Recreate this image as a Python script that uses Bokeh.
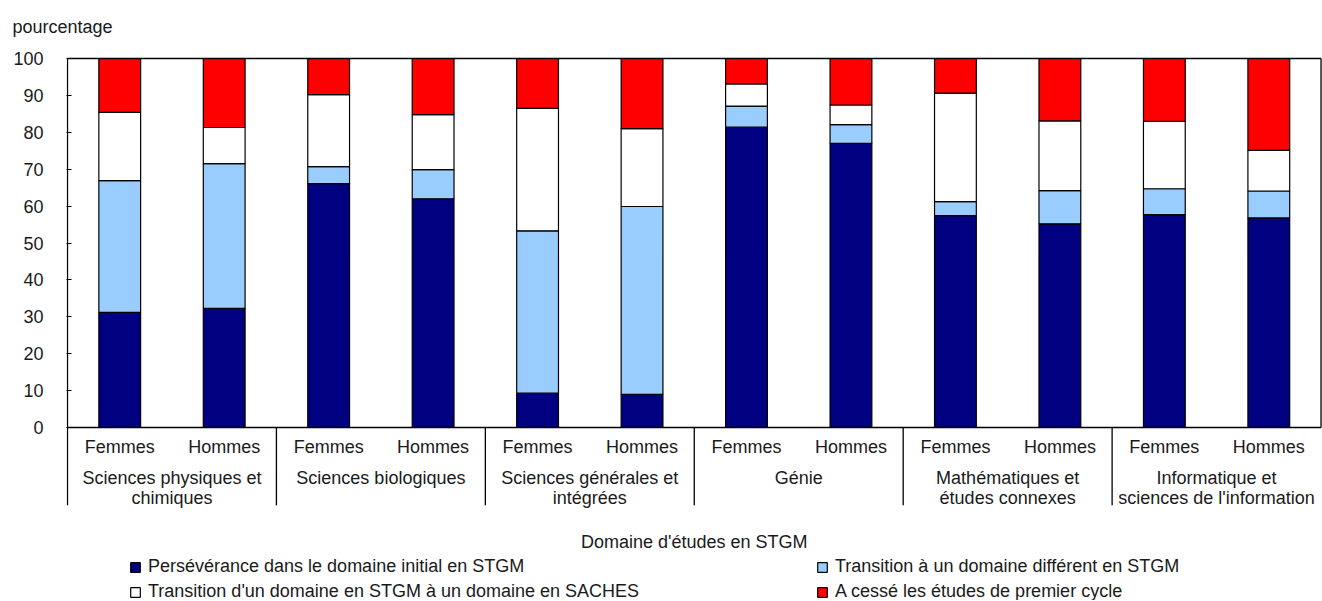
import numpy as np
from bokeh.plotting import figure
from bokeh.models import Range1d, ColumnDataSource, Legend, LegendItem, FixedTicker
from bokeh.core.properties import value
from bokeh.embed import file_html
from bokeh.resources import INLINE

# ---------------- data ----------------
domaines = [
    "Sciences physiques et\nchimiques",
    "Sciences biologiques",
    "Sciences générales et\nintégrées",
    "Génie",
    "Mathématiques et\nétudes connexes",
    "Informatique et\nsciences de l'information",
]
sexes = ["Femmes", "Hommes"]
series_labels = [
    "Persévérance dans le domaine initial en STGM",
    "Transition à un domaine différent en STGM",
    "Transition d'un domaine en STGM à un domaine en SACHES",
    "A cessé les études de premier cycle",
]
perseverance = [31.2, 32.3, 66.1, 62.0, 9.3, 9.0, 81.4, 77.0, 57.4, 55.2, 57.7, 56.8]
transition_stgm = [35.7, 39.2, 4.6, 7.9, 44.0, 50.9, 5.7, 5.1, 3.8, 9.0, 7.0, 7.3]
transition_saches = [18.5, 9.8, 19.5, 14.9, 33.2, 21.1, 6.0, 5.3, 29.4, 18.9, 18.3, 11.0]
cesse = [14.6, 18.7, 9.8, 15.2, 13.5, 19.0, 6.9, 12.6, 9.4, 16.9, 17.0, 24.9]
y_ticks = [0, 10, 20, 30, 40, 50, 60, 70, 80, 90, 100]
legend_title = "Domaine d'études en STGM"
y_title = "pourcentage"

# ---------------- style ----------------
FONT = "Liberation Sans"
FS = "18px"
TXT = "#1a1a1a"
colors = ["#000080", "#99CCFF", "#FFFFFF", "#FF0000"]
keys = ["perseverance", "transition_stgm", "transition_saches", "cesse"]

n_grp = len(domaines)
n_sub = len(sexes)
n = n_grp * n_sub
xc = np.arange(n) + 0.5
grp_centers = np.arange(n_grp) * n_sub + n_sub / 2

src = ColumnDataSource(dict(
    x=xc,
    perseverance=perseverance,
    transition_stgm=transition_stgm,
    transition_saches=transition_saches,
    cesse=cesse,
))

p = figure(
    width=1322, height=600,
    x_range=Range1d(-0.0096, n + 0.014),
    y_range=Range1d(-46.88, 104.88),
    output_backend="svg", toolbar_location=None,
    x_axis_location=None,
    min_border_left=66, min_border_right=0, min_border_top=40, min_border_bottom=0,
    title=y_title,
)
p.title.text_font = FONT
p.title.text_font_size = FS
p.title.text_font_style = "normal"
p.title.text_color = TXT
p.title.align = "left"
p.title.offset = -54
p.title.standoff = 7

p.outline_line_color = None
p.xgrid.visible = False
p.ygrid.visible = False

ax = p.yaxis[0]
ax.ticker = FixedTicker(ticks=y_ticks)
ax.axis_line_color = None
ax.major_tick_in = 5
ax.major_tick_out = 0
ax.major_tick_line_color = "black"
ax.minor_tick_line_color = None
ax.major_label_standoff = 23
ax.major_label_text_font = FONT
ax.major_label_text_font_size = FS
ax.major_label_text_color = TXT

rs = p.vbar_stack(keys, x="x", width=0.4, source=src,
                  fill_color=colors, line_color="black", line_width=1.2)

# frame lines and group separators
label_bottom = -21.1
seps = [k * n_sub for k in range(1, n_grp)]
x0 = [0, 0, n, 0] + seps
x1 = [0, n, n, n] + seps
y0 = [label_bottom, 100, 0, 0] + [label_bottom] * len(seps)
y1 = [100, 100, 100, 0] + [0] * len(seps)
p.segment(x0=x0, y0=y0, x1=x1, y1=y1, line_color="black", line_width=1.3)

# category labels
p.text(x=xc, y=-5.4, text=sexes * n_grp, text_font=value(FONT), text_font_size=FS,
       text_color=TXT, text_align="center", text_baseline="middle")
p.text(x=grp_centers, y=-10.9, text=domaines, text_font=value(FONT), text_font_size=FS,
       text_color=TXT, text_align="center", text_baseline="top", text_line_height=1.0)
p.text(x=[n / 2], y=[-30.9], text=[legend_title], text_font=value(FONT), text_font_size=FS,
       text_color=TXT, text_align="center", text_baseline="middle")

def make_legend(idx, loc):
    leg = Legend(items=[LegendItem(label=series_labels[i], renderers=[rs[i]]) for i in idx],
                 location=loc)
    leg.label_text_font = FONT
    leg.label_text_font_size = FS
    leg.label_text_color = TXT
    leg.glyph_width = 12
    leg.glyph_height = 12
    leg.label_standoff = 7
    leg.label_height = 25
    leg.spacing = 0
    leg.padding = 0
    leg.margin = 0
    leg.border_line_color = None
    leg.background_fill_alpha = 0
    return leg

p.add_layout(make_legend([0, 2], (63, -4)))
p.add_layout(make_legend([1, 3], (750, -4)))

open("out.html", "w").write(file_html(p, INLINE))
